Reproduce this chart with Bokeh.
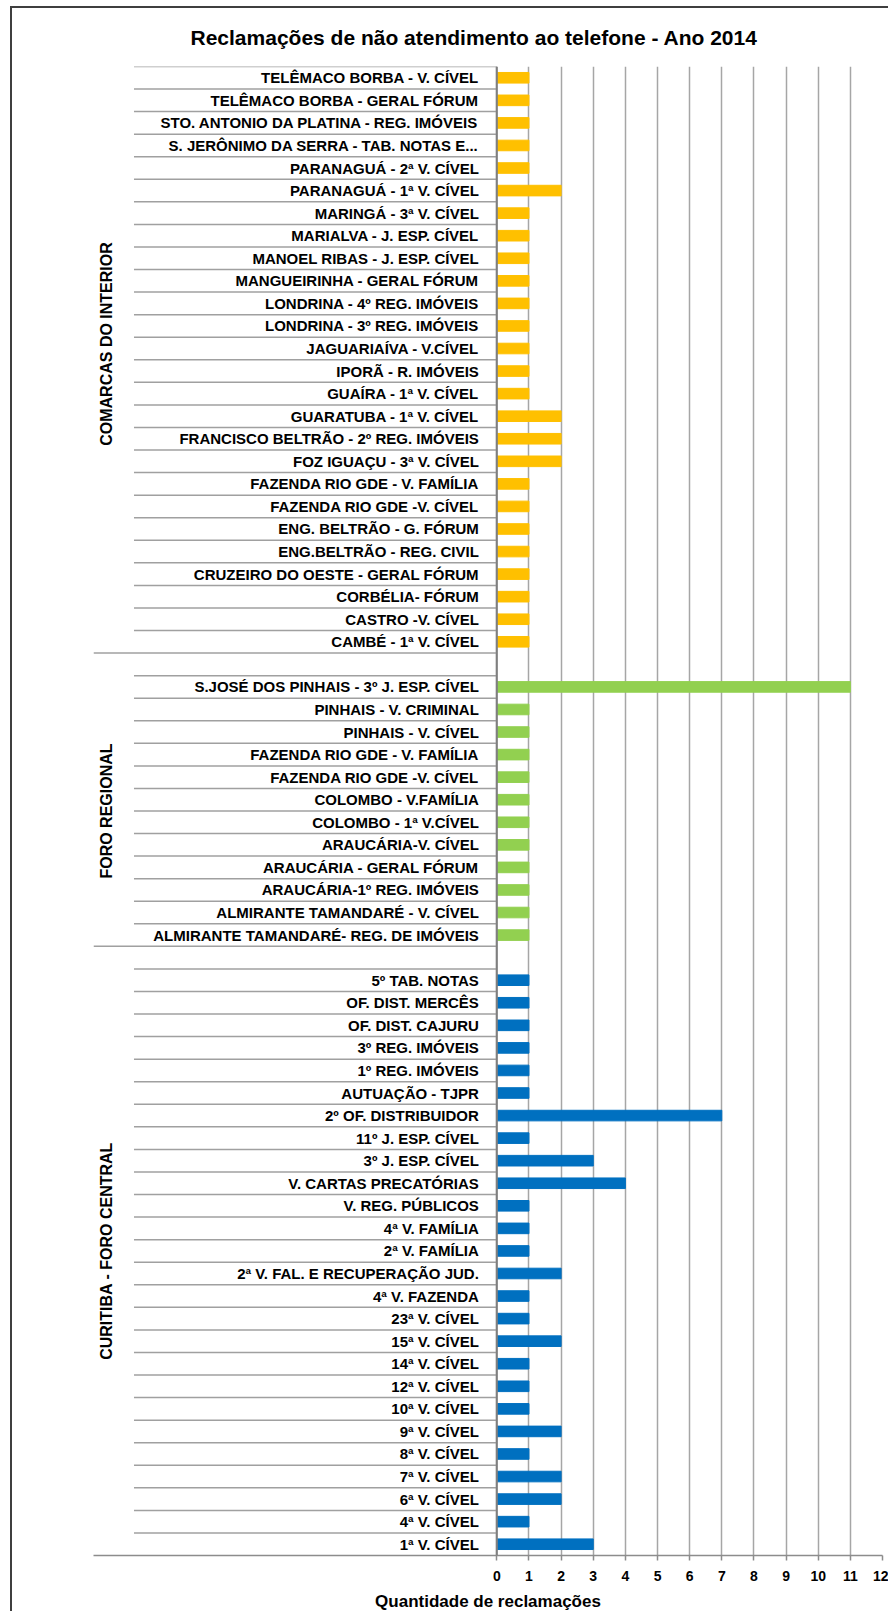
from bokeh.plotting import figure
from bokeh.models import FactorRange, Range1d, FixedTicker, Span, ColumnDataSource
from bokeh.core.properties import value
from bokeh.embed import file_html
from bokeh.resources import INLINE

TITLE = "Reclamações de não atendimento ao telefone - Ano 2014"
X_LABEL = "Quantidade de reclamações"

GROUP_INTERIOR = "COMARCAS DO INTERIOR"
GROUP_REGIONAL = "FORO REGIONAL"
GROUP_CURITIBA = "CURITIBA - FORO CENTRAL"

# listed top to bottom as in the chart
interior_labels = [
    "TELÊMACO BORBA - V. CÍVEL", "TELÊMACO BORBA - GERAL FÓRUM",
    "STO. ANTONIO DA PLATINA - REG. IMÓVEIS", "S. JERÔNIMO DA SERRA - TAB. NOTAS E...",
    "PARANAGUÁ - 2ª V. CÍVEL", "PARANAGUÁ - 1ª V. CÍVEL", "MARINGÁ - 3ª V. CÍVEL",
    "MARIALVA - J. ESP. CÍVEL", "MANOEL RIBAS - J. ESP. CÍVEL", "MANGUEIRINHA - GERAL FÓRUM",
    "LONDRINA - 4º REG. IMÓVEIS", "LONDRINA - 3º REG. IMÓVEIS", "JAGUARIAÍVA - V.CÍVEL",
    "IPORÃ - R. IMÓVEIS", "GUAÍRA - 1ª V. CÍVEL", "GUARATUBA - 1ª V. CÍVEL",
    "FRANCISCO BELTRÃO - 2º REG. IMÓVEIS", "FOZ IGUAÇU - 3ª V. CÍVEL",
    "FAZENDA RIO GDE - V. FAMÍLIA", "FAZENDA RIO GDE -V. CÍVEL", "ENG. BELTRÃO - G. FÓRUM",
    "ENG.BELTRÃO - REG. CIVIL", "CRUZEIRO DO OESTE - GERAL FÓRUM", "CORBÉLIA- FÓRUM",
    "CASTRO -V. CÍVEL", "CAMBÉ - 1ª V. CÍVEL",
]
interior_values = [1, 1, 1, 1, 1, 2, 1, 1, 1, 1, 1, 1, 1, 1, 1, 2, 2, 2, 1, 1, 1, 1, 1, 1, 1, 1]

regional_labels = [
    "S.JOSÉ DOS PINHAIS - 3º J. ESP. CÍVEL", "PINHAIS - V. CRIMINAL", "PINHAIS - V. CÍVEL",
    "FAZENDA RIO GDE - V. FAMÍLIA", "FAZENDA RIO GDE -V. CÍVEL", "COLOMBO - V.FAMÍLIA",
    "COLOMBO - 1ª V.CÍVEL", "ARAUCÁRIA-V. CÍVEL", "ARAUCÁRIA - GERAL FÓRUM",
    "ARAUCÁRIA-1º REG. IMÓVEIS", "ALMIRANTE TAMANDARÉ - V. CÍVEL",
    "ALMIRANTE TAMANDARÉ- REG. DE IMÓVEIS",
]
regional_values = [11, 1, 1, 1, 1, 1, 1, 1, 1, 1, 1, 1]

curitiba_labels = [
    "5º TAB. NOTAS", "OF. DIST. MERCÊS", "OF. DIST. CAJURU", "3º REG. IMÓVEIS",
    "1º REG. IMÓVEIS", "AUTUAÇÃO - TJPR", "2º OF. DISTRIBUIDOR", "11º J. ESP. CÍVEL",
    "3º J. ESP. CÍVEL", "V. CARTAS PRECATÓRIAS", "V. REG. PÚBLICOS", "4ª V. FAMÍLIA",
    "2ª V. FAMÍLIA", "2ª V. FAL. E RECUPERAÇÃO JUD.", "4ª V. FAZENDA", "23ª V. CÍVEL",
    "15ª V. CÍVEL", "14ª V. CÍVEL", "12ª V. CÍVEL", "10ª V. CÍVEL", "9ª V. CÍVEL",
    "8ª V. CÍVEL", "7ª V. CÍVEL", "6ª V. CÍVEL", "4ª V. CÍVEL", "1ª V. CÍVEL",
]
curitiba_values = [1, 1, 1, 1, 1, 1, 7, 1, 3, 4, 1, 1, 1, 2, 1, 1, 2, 1, 1, 1, 2, 1, 2, 2, 1, 3]

x_ticks = list(range(0, 13))

COLORS = {GROUP_INTERIOR: "#FFC000", GROUP_REGIONAL: "#92D050", GROUP_CURITIBA: "#0070C0"}
FONT = "Liberation Sans"

# groups in chart order (top to bottom); an empty category opens the lower groups
# (name, labels, values, leading blank row, shift of the vertical group label in rows)
groups = [
    (GROUP_INTERIOR, interior_labels, interior_values, False, 0.7),
    (GROUP_REGIONAL, regional_labels, regional_values, True, -0.5),
    (GROUP_CURITIBA, curitiba_labels, curitiba_values, True, 0.0),
]

factors_top_down = []
bar_y, bar_v, bar_c = [], [], []
for g, labels, vals, blank, _ in groups:
    if blank:
        factors_top_down.append((g, ""))
    for lab, v in zip(labels, vals):
        factors_top_down.append((g, lab))
        bar_y.append((g, lab))
        bar_v.append(v)
        bar_c.append(COLORS[g])

factors = list(reversed(factors_top_down))

X_LEFT = -12.55
p = figure(width=878, height=1605, output_backend="svg", toolbar_location=None,
           x_range=Range1d(X_LEFT, 12), y_range=FactorRange(*factors, range_padding=0,
                                                            group_padding=0, factor_padding=0),
           min_border_left=81, min_border_right=8, min_border_top=58, min_border_bottom=58)
p.margin = (6, 0, 0, 10)
p.styles = {"border-left": "2px solid #3F3F3F", "border-top": "2px solid #3F3F3F"}
p.outline_line_color = None
p.background_fill_color = "white"

p.title.text = TITLE
p.title.align = "left"
p.title.offset = 97
p.title.vertical_align = "top"
p.title.text_font = FONT
p.title.text_font_size = "21px"
p.title.text_font_style = "bold"
p.title.text_color = "#000000"
p.title.standoff = 32

# bars
src = ColumnDataSource(dict(y=bar_y, v=bar_v, c=bar_c))
p.hbar(y="y", left=0, right="v", height=0.47, color="c", source=src)

# category separators in the label area
short_y, long_y = [], []
for g, lab in factors_top_down:
    if lab == "":
        long_y.append((g, lab, 0.5))
    else:
        short_y.append((g, lab, 0.5))
p.segment(x0=-11.29, x1=0, y0=short_y, y1=short_y, line_color="#A0A0A0", line_width=1.5)
p.segment(x0=X_LEFT, x1=0, y0=long_y, y1=long_y, line_color="#A0A0A0", line_width=1.5)

# category labels
lab_y = [f for f in factors_top_down if f[1] != ""]
lab_t = [f[1] for f in lab_y]
p.text(x=-0.56, y=lab_y, text=lab_t, text_align="right", text_baseline="middle",
       text_font=value(FONT), text_font_style="bold", text_font_size="15px", text_color="#000000")

# group labels
grp = [g[0] for g in groups]
grp_y = [(g, s) for g, _, _, _, s in groups]
p.text(x=-12.13, y=grp_y, text=grp, angle=1.5708, text_align="center", text_baseline="middle",
       text_font=value(FONT), text_font_style="bold", text_font_size="16px", text_color="#000000")

# axes
p.yaxis.visible = False
p.ygrid.visible = False
p.xaxis.ticker = FixedTicker(ticks=x_ticks)
p.xgrid.ticker = FixedTicker(ticks=x_ticks)
p.xgrid.grid_line_color = "#A6A6A6"
p.xgrid.grid_line_width = 1.5
p.xaxis.axis_line_color = "#8C8C8C"
p.xaxis.axis_line_width = 1.5
p.xaxis.major_tick_line_color = "#8C8C8C"
p.xaxis.major_tick_line_width = 1.5
p.xaxis.major_tick_out = 5
p.xaxis.major_tick_in = 0
p.xaxis.minor_tick_line_color = None
p.xaxis.major_label_text_font = FONT
p.xaxis.major_label_text_font_style = "bold"
p.xaxis.major_label_text_font_size = "14px"
p.xaxis.major_label_text_color = "#000000"
p.xaxis.major_label_standoff = 10
p.xaxis.axis_label = X_LABEL
p.xaxis.axis_label_text_font = FONT
p.xaxis.axis_label_text_font_style = "bold"
p.xaxis.axis_label_text_font_size = "17px"
p.xaxis.axis_label_text_color = "#000000"
p.xaxis.axis_label_standoff = 8

p.add_layout(Span(location=0, dimension="height", line_color="#7F7F7F", line_width=2))

open("out.html", "w").write(file_html(p, INLINE))
